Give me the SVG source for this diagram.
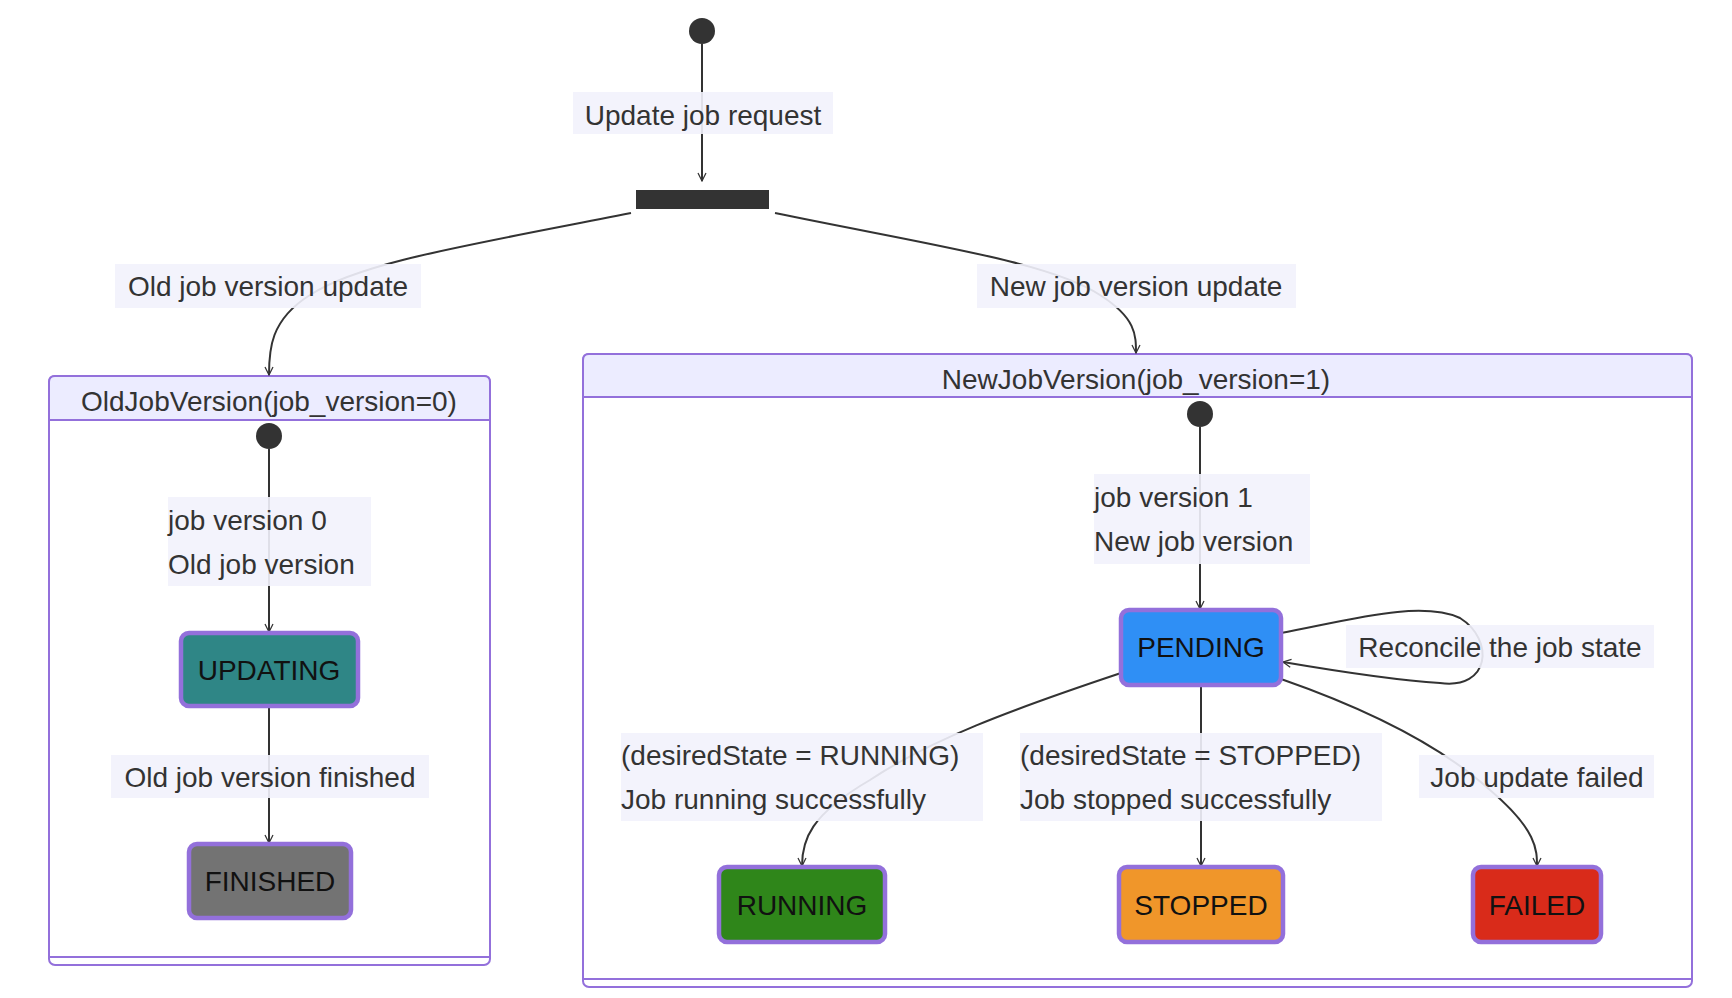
<svg xmlns="http://www.w3.org/2000/svg" width="1732" height="998" viewBox="0 0 1732 998">
<style>
text{font-family:"Liberation Sans",Arial,sans-serif;font-size:28px;fill:#333;}
.c{text-anchor:middle;dominant-baseline:central}
.lb{fill:#f2f2fc}
.st{stroke:#9370DB;stroke-width:4.5}
.cl{fill:#fff;stroke:#9370DB;stroke-width:2}
.hd{fill:#ececff;stroke:#9370DB;stroke-width:2}
.e{fill:none;stroke:#333;stroke-width:2}
.dot{fill:#333}
</style>
<defs><marker id="a" viewBox="0 0 20 20" refX="18" refY="10" markerWidth="10" markerHeight="10" markerUnits="userSpaceOnUse" orient="auto"><path d="M2,2 L18,10 L2,18" fill="none" stroke="#333" stroke-width="2.5"/></marker></defs>
<g id="OldJobVersion"><rect class="cl" x="49" y="376" width="441" height="589" rx="6"/><path class="hd" d="M55,376 H484 Q490,376 490,382 V420 H49 V382 Q49,376 55,376Z"/><line x1="49" y1="957" x2="490" y2="957" stroke="#9370DB" stroke-width="2"/><text class="c" x="269" y="401">OldJobVersion(job_version=0)</text></g>
<g id="NewJobVersion"><rect class="cl" x="583" y="354" width="1109" height="633" rx="6"/><path class="hd" d="M589,354 H1686 Q1692,354 1692,360 V397 H583 V360 Q583,354 589,354Z"/><line x1="583" y1="979" x2="1692" y2="979" stroke="#9370DB" stroke-width="2"/><text class="c" x="1136" y="379">NewJobVersion(job_version=1)</text></g>
<g id="connectors">
<path class="e" d="M702,44 V181" marker-end="url(#a)"/>
<path class="e" d="M631,213 C470,245 360,262 310,295 C270,320 269,350 269,375" marker-end="url(#a)"/>
<path class="e" d="M775,213 C930,245 1050,262 1100,295 C1136,318 1136,335 1136,353" marker-end="url(#a)"/>
<path class="e" d="M269,449 V632" marker-end="url(#a)"/>
<path class="e" d="M269,706 V843" marker-end="url(#a)"/>
<path class="e" d="M1200,427 V609" marker-end="url(#a)"/>
<path class="e" d="M1281,633 C1350,620 1420,600 1460,618 C1495,640 1490,690 1440,683 C1390,680 1330,670 1283,662" marker-end="url(#a)"/>
<path class="e" d="M1121,673 C1010,710 930,740 870,780 C810,815 802,840 802,866" marker-end="url(#a)"/>
<path class="e" d="M1201,685 V866" marker-end="url(#a)"/>
<path class="e" d="M1281,679 C1370,710 1440,745 1490,790 C1537,830 1537,850 1537,866" marker-end="url(#a)"/>
</g>
<g id="labels">
<rect class="lb" x="573" y="92" width="260" height="42" opacity="0.9"/><text class="c" x="703" y="115">Update job request</text>
<rect class="lb" x="115" y="264" width="306" height="44" opacity="0.9"/><text class="c" x="268" y="286">Old job version update</text>
<rect class="lb" x="977" y="264" width="319" height="44" opacity="0.9"/><text class="c" x="1136" y="286">New job version update</text>
<rect class="lb" x="168" y="497" width="203" height="89" opacity="0.9"/><text x="168" y="530">job version 0</text><text x="168" y="574">Old job version</text>
<rect class="lb" x="111" y="755" width="318" height="43" opacity="0.9"/><text class="c" x="270" y="777">Old job version finished</text>
<rect class="lb" x="1094" y="474" width="216" height="90" opacity="0.9"/><text x="1094" y="507">job version 1</text><text x="1094" y="551">New job version</text>
<rect class="lb" x="1346" y="625" width="308" height="43" opacity="0.9"/><text class="c" x="1500" y="647">Reconcile the job state</text>
<rect class="lb" x="621" y="733" width="362" height="88" opacity="0.9"/><text x="621" y="765">(desiredState = RUNNING)</text><text x="621" y="809">Job running successfully</text>
<rect class="lb" x="1020" y="733" width="362" height="88" opacity="0.9"/><text x="1020" y="765">(desiredState = STOPPED)</text><text x="1020" y="809">Job stopped successfully</text>
<rect class="lb" x="1419" y="755" width="235" height="43" opacity="0.9"/><text class="c" x="1537" y="777">Job update failed</text>
</g>
<g id="start"><circle class="dot" cx="702" cy="31" r="13"/></g>
<g id="fork"><rect class="dot" x="636" y="190" width="133" height="19"/></g>
<g id="oldStart"><circle class="dot" cx="269" cy="436" r="13"/></g>
<g id="newStart"><circle class="dot" cx="1200" cy="414" r="13"/></g>
<g id="UPDATING"><rect class="st" x="181" y="633" width="177" height="73" rx="8" fill="#2f8686"/><text class="c" x="269" y="670" style="fill:#111">UPDATING</text></g>
<g id="FINISHED"><rect class="st" x="189" y="844" width="162" height="74" rx="8" fill="#737373"/><text class="c" x="270" y="881" style="fill:#111">FINISHED</text></g>
<g id="PENDING"><rect class="st" x="1121" y="610" width="160" height="75" rx="8" fill="#2f8ff5"/><text class="c" x="1201" y="647" style="fill:#111">PENDING</text></g>
<g id="RUNNING"><rect class="st" x="719" y="867" width="166" height="75" rx="8" fill="#2f861a"/><text class="c" x="802" y="905" style="fill:#111">RUNNING</text></g>
<g id="STOPPED"><rect class="st" x="1119" y="867" width="164" height="75" rx="8" fill="#f0962a"/><text class="c" x="1201" y="905" style="fill:#111">STOPPED</text></g>
<g id="FAILED"><rect class="st" x="1473" y="867" width="128" height="75" rx="8" fill="#d92b1a"/><text class="c" x="1537" y="905" style="fill:#111">FAILED</text></g>
</svg>
